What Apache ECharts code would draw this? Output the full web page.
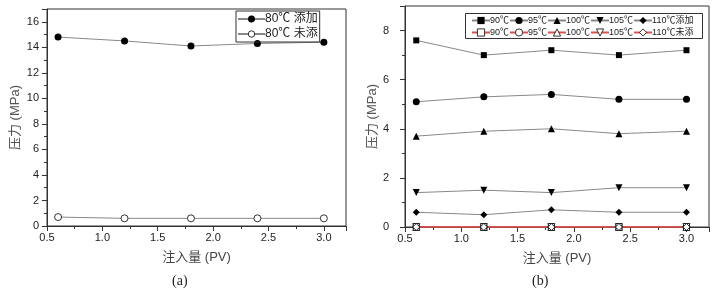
<!DOCTYPE html>
<html>
<head>
<meta charset="utf-8">
<script src="https://cdn.jsdelivr.net/npm/echarts@6/dist/echarts.min.js"></script>
<style>
  html, body { margin: 0; padding: 0; background: #fff; }
  #chart { width: 716px; height: 290px; }
</style>
</head>
<body>
<div id="chart"></div>
<script>
// 注入量 (PV)
const pv = [0.6, 1.2, 1.8, 2.4, 3.0]

// (a) 80℃
const a80Added = [14.8, 14.5, 14.1, 14.3, 14.4]
const a80None = [0.7, 0.6, 0.6, 0.6, 0.6]

// (b) 添加
const b90Added = [7.6, 7.0, 7.2, 7.0, 7.2]
const b95Added = [5.1, 5.3, 5.4, 5.2, 5.2]
const b100Added = [3.7, 3.9, 4.0, 3.8, 3.9]
const b105Added = [1.4, 1.5, 1.4, 1.6, 1.6]
const b110Added = [0.6, 0.5, 0.7, 0.6, 0.6]
// (b) 未添
const b90None = [0, 0, 0, 0, 0]
const b95None = [0, 0, 0, 0, 0]
const b100None = [0, 0, 0, 0, 0]
const b105None = [0, 0, 0, 0, 0]
const b110None = [0, 0, 0, 0, 0]

const rowAdded = ['90℃', '95℃', '100℃', '105℃', '110℃添加']
const rowNone = ['90℃', '95℃', '100℃', '105℃', '110℃未添']

const fontLatin = 'Liberation Sans, Arial, Noto Sans CJK SC'
const pairs = (ys) => ys.map((y, i) => [pv[i], y])

function xAxisOf(gridIndex) {
  return {
    type: 'value', gridIndex, min: 0.5, max: 3.2, interval: 0.5,
    name: '注入量 (PV)', nameLocation: 'middle', nameGap: 25,
    nameTextStyle: { fontSize: 13, color: '#444', fontFamily: fontLatin },
    axisLine: { show: true, lineStyle: { color: '#333' } },
    axisTick: { show: true, length: 5, lineStyle: { color: '#333' } },
    minorTick: { show: true, splitNumber: 2, length: 3, lineStyle: { color: '#333' } },
    splitLine: { show: false },
    axisLabel: { fontSize: 11, color: '#222', margin: 6, fontFamily: fontLatin, showMaxLabel: false,
      formatter: v => v.toFixed(1) }
  }
}

function yAxisOf(gridIndex, max, margin, nameGap) {
  return {
    type: 'value', gridIndex, min: 0, max, interval: 2,
    name: '压力 (MPa)', nameLocation: 'middle', nameGap, nameRotate: 90,
    nameTextStyle: { fontSize: 13, color: '#555', fontFamily: fontLatin },
    axisLine: { show: true, lineStyle: { color: '#333' } },
    axisTick: { show: true, length: 5, lineStyle: { color: '#333' } },
    minorTick: { show: true, splitNumber: 2, length: 3, lineStyle: { color: '#333' } },
    splitLine: { show: false },
    axisLabel: { fontSize: 11, color: '#222', margin, fontFamily: fontLatin, showMaxLabel: false }
  }
}

function lineSeries(name, ys, axis, symbol, filled, lineColor, rotate) {
  return {
    name, type: 'line', xAxisIndex: axis, yAxisIndex: axis,
    data: pairs(ys),
    symbol, symbolSize: symbol === 'rect' ? 6 : 7, symbolRotate: rotate || 0,
    showSymbol: true,
    lineStyle: { color: lineColor, width: 1 },
    itemStyle: filled
      ? { color: '#000', borderColor: '#000', borderWidth: 0 }
      : { color: '#fff', borderColor: '#000', borderWidth: 0.8 },
    emphasis: { disabled: true },
    animation: false,
    z: filled ? 3 : 4
  }
}

const chart = echarts.init(document.getElementById('chart'))
const legendText = { fontSize: 9, color: '#222', fontFamily: fontLatin, padding: [0, 0, 0, -5] }

chart.setOption({
  animation: false,
  grid: [
    { left: 47, top: 9, width: 299, height: 217, show: true, borderColor: '#333', borderWidth: 1 },
    { left: 405, top: 6, width: 304, height: 221, show: true, borderColor: '#333', borderWidth: 1 }
  ],
  xAxis: [xAxisOf(0), xAxisOf(1)],
  yAxis: [yAxisOf(0, 17, 8, 25), yAxisOf(1, 9, 16, 18)],
  legend: [
    {
      orient: 'vertical', left: 236, top: 11, itemGap: 3, itemWidth: 27, itemHeight: 8,
      padding: [2, 2, 2, 1], borderColor: '#333', borderWidth: 1,
      data: ['80℃ 添加', '80℃ 未添'],
      itemStyle: { borderWidth: 0.8 },
      textStyle: { fontSize: 12, color: '#222', fontFamily: fontLatin, padding: [0, 0, 0, -5] }
    },
    {
      orient: 'horizontal', left: 466, top: 11, itemGap: 0, itemWidth: 18, itemHeight: 9,
      data: rowAdded.map(n => n === '110℃添加' ? n : n + ' 添加'),
      formatter: n => n.replace(' 添加', ''),
      textStyle: legendText
    },
    {
      orient: 'horizontal', left: 466, top: 23, itemGap: 0, itemWidth: 18, itemHeight: 9,
      data: rowNone.map(n => n === '110℃未添' ? n : n + ' 未添'),
      formatter: n => n.replace(' 未添', ''),
      itemStyle: { borderWidth: 0.8 },
      textStyle: legendText
    }
  ],
  graphic: [
    { type: 'rect', left: 463, top: 11, shape: { width: 237, height: 25 },
      style: { fill: 'none', stroke: '#333', lineWidth: 1 }, z: 10 },
    { type: 'text', left: 172, top: 274, style: { text: '(a)', font: '14px Liberation Serif', fill: '#222' } },
    { type: 'text', left: 532, top: 274, style: { text: '(b)', font: '14px Liberation Serif', fill: '#222' } }
  ],
  series: [
    lineSeries('80℃ 添加', a80Added, 0, 'circle', true, '#888'),
    lineSeries('80℃ 未添', a80None, 0, 'circle', false, '#888'),

    lineSeries('90℃ 添加', b90Added, 1, 'rect', true, '#888'),
    lineSeries('95℃ 添加', b95Added, 1, 'circle', true, '#888'),
    lineSeries('100℃ 添加', b100Added, 1, 'triangle', true, '#888'),
    lineSeries('105℃ 添加', b105Added, 1, 'triangle', true, '#888', 180),
    lineSeries('110℃添加', b110Added, 1, 'diamond', true, '#888'),

    lineSeries('90℃ 未添', b90None, 1, 'rect', false, '#d9534f'),
    lineSeries('95℃ 未添', b95None, 1, 'circle', false, '#d9534f'),
    lineSeries('100℃ 未添', b100None, 1, 'triangle', false, '#d9534f'),
    lineSeries('105℃ 未添', b105None, 1, 'triangle', false, '#d9534f', 180),
    lineSeries('110℃未添', b110None, 1, 'diamond', false, '#d9534f')
  ]
})
</script>
</body>
</html>
